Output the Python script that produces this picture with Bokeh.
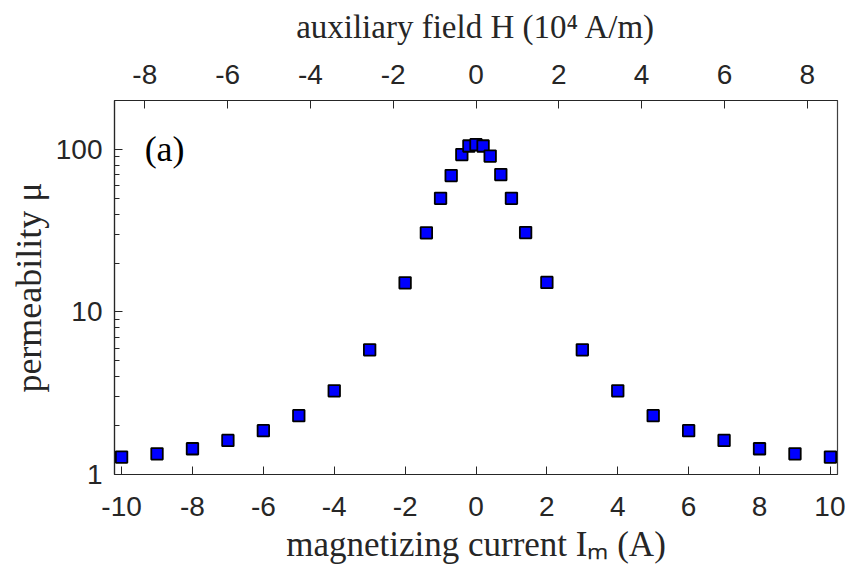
from bokeh.plotting import figure
from bokeh.models import Range1d, LinearAxis, FixedTicker, NumeralTickFormatter, Label, ColumnDataSource
from bokeh.embed import file_html
from bokeh.resources import INLINE

# data: magnetizing current (A) and permeability
current = [-10, -9, -8, -7, -6, -5, -4, -3, -2, -1.4, -1, -0.7, -0.4, -0.2, 0,
           0.2, 0.4, 0.7, 1, 1.4, 2, 3, 4, 5, 6, 7, 8, 9, 10]
permeability = [1.28, 1.34, 1.44, 1.62, 1.86, 2.30, 3.27, 5.85, 15.1, 30.7, 50, 69, 93, 105, 107,
                105, 91, 70, 50, 30.8, 15.2, 5.85, 3.27, 2.30, 1.86, 1.62, 1.44, 1.34, 1.28]

bottom_ticks = [-10, -8, -6, -4, -2, 0, 2, 4, 6, 8, 10]
top_ticks = [-8, -6, -4, -2, 0, 2, 4, 6, 8]
y_major = [1, 10, 100]
y_minor = [2, 3, 4, 5, 6, 7, 8, 9, 20, 30, 40, 50, 60, 70, 80, 90]

x_lo, x_hi = -10.2, 10.2
h_per_a = 0.856  # auxiliary field (1e4 A/m) per ampere

p = figure(width=845, height=566, output_backend="svg", toolbar_location=None,
           x_range=Range1d(x_lo, x_hi), y_range=Range1d(1, 200), y_axis_type="log",
           min_border_left=114, min_border_right=8, min_border_top=100, min_border_bottom=91)
p.extra_x_ranges = {"H": Range1d(x_lo * h_per_a, x_hi * h_per_a)}

p.xgrid.visible = False
p.ygrid.visible = False
p.outline_line_color = "#404040"
p.outline_line_width = 1.2
p.background_fill_color = "white"
p.border_fill_color = "white"

tick_font = "Liberation Sans"
label_font = "Liberation Serif"

# bottom axis
xa = p.xaxis[0]
xa.ticker = FixedTicker(ticks=bottom_ticks)
xa.major_label_overrides = {t: str(t) for t in bottom_ticks}
xa.axis_label = "magnetizing current Iₘ (A)"

# left axis
ya = p.yaxis[0]
ya.ticker = FixedTicker(ticks=y_major, minor_ticks=y_minor)
ya.formatter = NumeralTickFormatter(format="0")
ya.axis_label = "permeability μ"

# top axis
top = LinearAxis(x_range_name="H", ticker=FixedTicker(ticks=top_ticks),
                 axis_label="auxiliary field H (10⁴ A/m)")
top.major_label_overrides = {t: str(t) for t in top_ticks}
p.add_layout(top, "above")

for ax in [xa, ya, top]:
    ax.axis_line_color = "#262626"
    ax.axis_line_width = 1.2
    ax.major_tick_in = 8
    ax.major_tick_out = 0
    ax.major_tick_line_color = "#262626"
    ax.minor_tick_in = 0
    ax.minor_tick_out = 0
    ax.major_label_text_font = tick_font
    ax.major_label_text_font_size = "28px"
    ax.major_label_text_color = "#262626"
    ax.axis_label_text_font = label_font
    ax.axis_label_text_font_style = "normal"
    ax.axis_label_text_color = "#262626"

top.axis_label_text_font_size = "33px"
top.major_label_standoff = 17
top.axis_label_standoff = 17

xa.axis_label_text_font_size = "35px"
xa.major_label_standoff = 22
xa.axis_label_standoff = 6

ya.axis_label_text_font_size = "36px"
ya.minor_tick_in = 5
ya.minor_tick_line_color = "#262626"
ya.major_label_standoff = 12
ya.axis_label_standoff = 4

src = ColumnDataSource(dict(x=current, y=permeability))
p.scatter("x", "y", source=src, marker="square", size=11.5,
          fill_color="#0000FF", line_color="black", line_width=1.8)

p.add_layout(Label(x=-9.35, y=100, text="(a)", text_font=label_font,
                   text_font_size="36px", text_baseline="middle", text_color="black"))

open("out.html", "w").write(file_html(p, INLINE))
